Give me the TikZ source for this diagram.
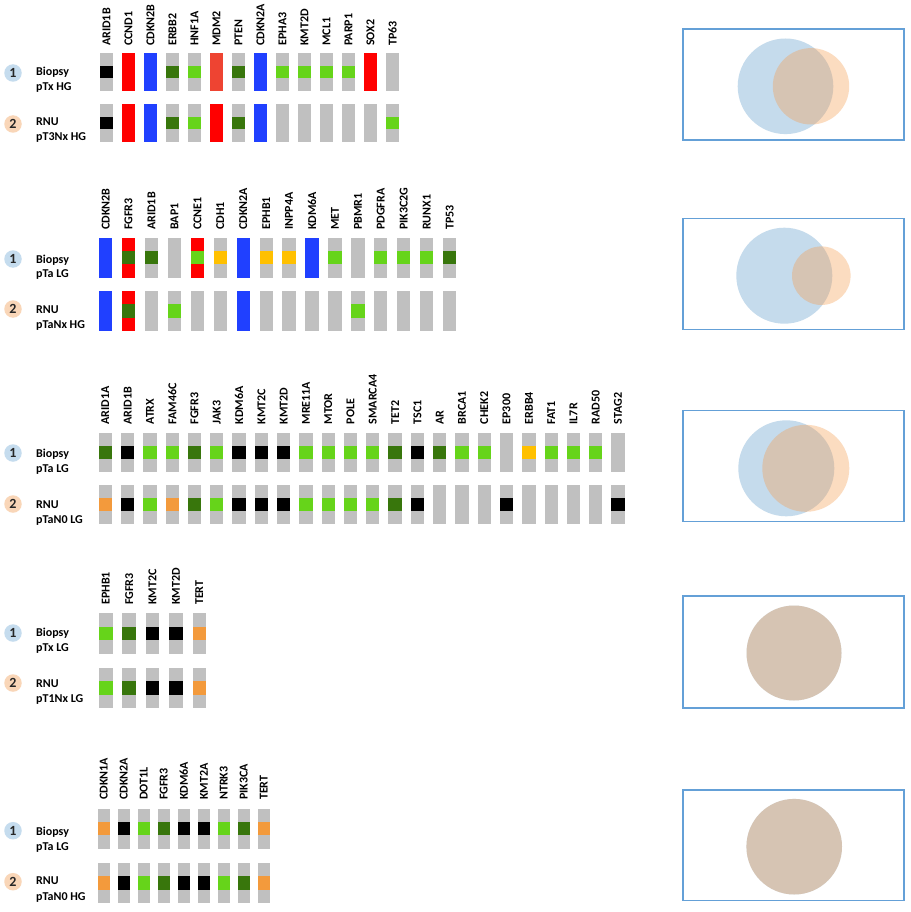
\documentclass[tikz,border=0pt]{standalone}
\usepackage{fontspec}
\setmainfont{Carlito}
\definecolor{cg}{RGB}{192,192,192}
\definecolor{ck}{RGB}{0,0,0}
\definecolor{cG}{RGB}{102,212,26}
\definecolor{cD}{RGB}{56,118,12}
\definecolor{cR}{RGB}{255,0,0}
\definecolor{cr}{RGB}{238,68,50}
\definecolor{cB}{RGB}{32,64,255}
\definecolor{cA}{RGB}{255,192,0}
\definecolor{cO}{RGB}{243,154,60}
\definecolor{numblue}{RGB}{197,220,238}
\definecolor{numorange}{RGB}{249,214,184}
\definecolor{numtext}{RGB}{38,38,38}
\definecolor{boxblue}{RGB}{100,160,215}
\definecolor{vennblue}{RGB}{89,152,201}
\definecolor{vennorange}{RGB}{246,155,75}
\newcommand\drawlabels[3]{%
  \foreach \g [count=\i from 0] in {#3}
    \node[gene] (#1g\i) at (\colX+\i*\colD+\colW/2,#2) {\g};}
\newcommand\drawrow[2]{%
  \foreach \f/\m [count=\i from 0] in {#2}{
    \fill[\f] (\colX+\i*\colD,#1) rectangle ++(\colW,\colH);
    \fill[\m] (\colX+\i*\colD,#1+\colH/3) rectangle ++(\colW,\colH/3);}}
\begin{document}
\begin{tikzpicture}[x=1pt,y=-1pt,
  gene/.style={rotate=90,anchor=west,inner sep=0pt,font=\bfseries\fontsize{12}{12}\selectfont},
  info/.style={anchor=base west,inner sep=0pt,font=\bfseries\fontsize{12}{12}\selectfont},
  num/.style={circle,inner sep=0pt,minimum size=17.5pt,font=\bfseries\fontsize{14}{14}\selectfont,text=numtext},
  n1/.style={num,fill=numblue},
  n2/.style={num,fill=numorange},
  vbox/.style={draw=boxblue,line width=1.3pt},
  vb/.style={fill=vennblue,fill opacity=0.35},
  vo/.style={fill=vennorange,fill opacity=0.35}]
\fill[white] (0,0) rectangle (910,912);
\useasboundingbox (0,0) rectangle (910,912);

% ---------------- Panel 1
\def\colX{100}\def\colD{22}\def\colW{13}\def\colH{38}
\drawlabels{pa}{46}{ARID1B,CCND1,CDKN2B,ERBB2,HNF1A,MDM2,PTEN,CDKN2A,EPHA3,KMT2D,MCL1,PARP1,SOX2,TP63}
\drawrow{53}{cg/ck,cR/cR,cB/cB,cg/cD,cg/cG,cr/cr,cg/cD,cB/cB,cg/cG,cg/cG,cg/cG,cg/cG,cR/cR,cg/cg}
\drawrow{104}{cg/ck,cR/cR,cB/cB,cg/cD,cg/cG,cR/cR,cg/cD,cB/cB,cg/cg,cg/cg,cg/cg,cg/cg,cg/cg,cg/cG}
\node[n1] (pac1) at (13,73) {1};
\node[info] (pab) at (36,76) {Biopsy};
\node[info] (pabt) at (36,91) {pTx HG};
\node[n2] (pac2) at (13,124) {2};
\node[info] (par) at (36,126) {RNU};
\node[info] (part) at (36,141) {pT3Nx HG};
\draw[vbox] (683,29) rectangle (904,140);
\fill[vb] (785.5,86.3) circle[radius=47.8pt];
\fill[vo] (811,86.3) circle[radius=38.2pt];

% ---------------- Panel 2
\def\colX{99}\def\colD{22.93}\def\colW{13.3}\def\colH{40}
\drawlabels{pb}{230}{CDKN2B,FGFR3,ARID1B,BAP1,CCNE1,CDH1,CDKN2A,EPHB1,INPP4A,KDM6A,MET,PBMR1,PDGFRA,PIK3C2G,RUNX1,TP53}
\drawrow{237.7}{cB/cB,cR/cD,cg/cD,cg/cg,cR/cG,cg/cA,cB/cB,cg/cA,cg/cA,cB/cB,cg/cG,cg/cg,cg/cG,cg/cG,cg/cG,cg/cD}
\drawrow{291}{cB/cB,cR/cD,cg/cg,cg/cG,cg/cg,cg/cg,cB/cB,cg/cg,cg/cg,cg/cg,cg/cg,cg/cG,cg/cg,cg/cg,cg/cg,cg/cg}
\node[n1] (pbc1) at (13,259) {1};
\node[info] (pbb) at (36,263) {Biopsy};
\node[info] (pbbt) at (36,277.5) {pTa LG};
\node[n2] (pbc2) at (13,309) {2};
\node[info] (pbr) at (36,313.5) {RNU};
\node[info] (pbrt) at (36,328) {pTaNx HG};
\draw[vbox] (683,218.3) rectangle (904,329.5);
\fill[vb] (784.3,275.7) circle[radius=48pt];
\fill[vo] (821.3,275.7) circle[radius=29.3pt];

% ---------------- Panel 3
\def\colX{98.7}\def\colD{22.29}\def\colW{13.3}\def\colH{38.5}
\drawlabels{pc}{424.5}{ARID1A,ARID1B,ATRX,FAM46C,FGFR3,JAK3,KDM6A,KMT2C,KMT2D,MRE11A,MTOR,POLE,SMARCA4,TET2,TSC1,AR,BRCA1,CHEK2,EP300,ERBB4,FAT1,IL7R,RAD50,STAG2}
\drawrow{433.3}{cg/cD,cg/ck,cg/cG,cg/cG,cg/cD,cg/cG,cg/ck,cg/ck,cg/ck,cg/cG,cg/cG,cg/cG,cg/cG,cg/cD,cg/ck,cg/cD,cg/cG,cg/cG,cg/cg,cg/cA,cg/cG,cg/cG,cg/cG,cg/cg}
\drawrow{485}{cg/cO,cg/ck,cg/cG,cg/cO,cg/cD,cg/cG,cg/ck,cg/ck,cg/ck,cg/cG,cg/cG,cg/cG,cg/cG,cg/cD,cg/ck,cg/cg,cg/cg,cg/cg,cg/ck,cg/cg,cg/cg,cg/cg,cg/cg,cg/ck}
\node[n1] (pcc1) at (13,453) {1};
\node[info] (pcb) at (36,457.5) {Biopsy};
\node[info] (pcbt) at (36,472) {pTa LG};
\node[n2] (pcc2) at (13,504) {2};
\node[info] (pcr) at (36,508) {RNU};
\node[info] (pcrt) at (36,523) {pTaN0 LG};
\draw[vbox] (683,410.7) rectangle (904,521.7);
\fill[vb] (786.3,468.3) circle[radius=48pt];
\fill[vo] (805.8,468.3) circle[radius=43.5pt];

% ---------------- Panel 4
\def\colX{99}\def\colD{23.4}\def\colW{13.5}\def\colH{40.5}
\drawlabels{pd}{605}{EPHB1,FGFR3,KMT2C,KMT2D,TERT}
\drawrow{613}{cg/cG,cg/cD,cg/ck,cg/ck,cg/cO}
\drawrow{667.7}{cg/cG,cg/cD,cg/ck,cg/ck,cg/cO}
\node[n1] (pdc1) at (13,633) {1};
\node[info] (pdb) at (36,636) {Biopsy};
\node[info] (pdbt) at (36,651) {pTx LG};
\node[n2] (pdc2) at (13,683) {2};
\node[info] (pdr) at (36,687.5) {RNU};
\node[info] (pdrt) at (36,702) {pT1Nx LG};
\draw[vbox] (683,596) rectangle (904,708);
\fill[vb] (794,653) circle[radius=47.5pt];
\fill[vo] (794,653) circle[radius=47.5pt];

% ---------------- Panel 5
\def\colX{97.7}\def\colD{20}\def\colW{12.3}\def\colH{39.5}
\drawlabels{pe}{800}{CDKN1A,CDKN2A,DOT1L,FGFR3,KDM6A,KMT2A,NTRK3,PIK3CA,TERT}
\drawrow{809}{cg/cO,cg/ck,cg/cG,cg/cD,cg/ck,cg/ck,cg/cG,cg/cD,cg/cO}
\drawrow{863.3}{cg/cO,cg/ck,cg/cG,cg/cD,cg/ck,cg/ck,cg/cG,cg/cD,cg/cO}
\node[n1] (pec1) at (13,830.7) {1};
\node[info] (peb) at (36,835.5) {Biopsy};
\node[info] (pebt) at (36,850) {pTa LG};
\node[n2] (pec2) at (13,881.7) {2};
\node[info] (per) at (36,884) {RNU};
\node[info] (pert) at (36,900.5) {pTaN0 HG};
\draw[vbox] (683,790) rectangle (904,900.7);
\fill[vb] (794.2,846.7) circle[radius=47.8pt];
\fill[vo] (794.2,846.7) circle[radius=47.8pt];
\end{tikzpicture}
\end{document}
